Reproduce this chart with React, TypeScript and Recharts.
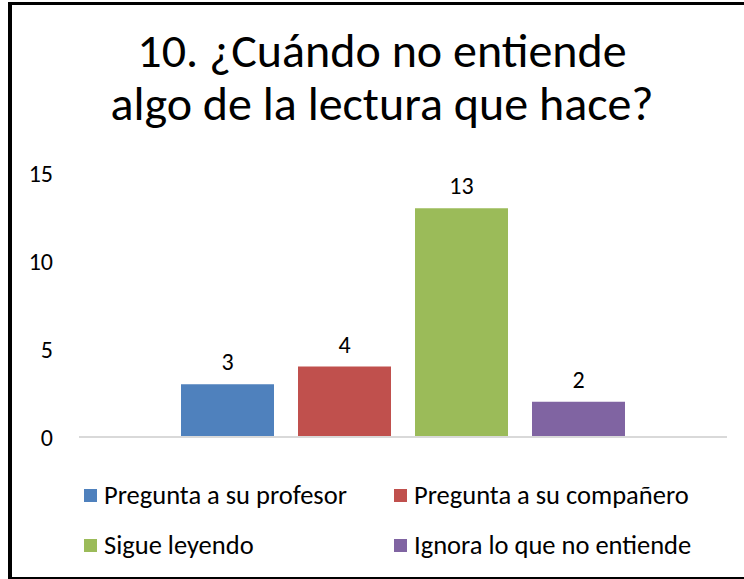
import { Bar, BarChart, LabelList, XAxis, YAxis } from "recharts"

const categories = ["10"]
const seriesNames = [
  "Pregunta a su profesor",
  "Pregunta a su compañero",
  "Sigue leyendo",
  "Ignora lo que no entiende",
]
const seriesValues = [3, 4, 13, 2]
const seriesColors = ["#4F81BD", "#C0504D", "#9BBB59", "#8064A2"]
const yTicks = [0, 5, 10, 15]
const titleLines = ["10. ¿Cuándo no entiende", "algo de la lectura que hace?"]

const font = "Carlito, Calibri, 'Liberation Sans', sans-serif"

const data = categories.map((name) => {
  const row: Record<string, string | number> = { name }
  seriesNames.forEach((s, i) => {
    row[s] = seriesValues[i]
  })
  return row
})

export default function App() {
  return (
    <div style={{ position: "relative", width: 744, height: 579, overflow: "hidden", fontFamily: font }}>
      <style>{`body{margin:0;overflow:hidden;background:#fff}`}</style>
      <div
        style={{
          position: "absolute",
          left: 8,
          top: 2,
          width: 736,
          height: 578,
          boxSizing: "border-box",
          borderLeft: "4px solid #000",
          borderTop: "3px solid #000",
          borderBottom: "3px solid #000",
        }}
      />
      {titleLines.map((t, i) => (
        <div
          key={t}
          style={{
            position: "absolute",
            left: 0,
            top: 24 + i * 53,
            width: 764,
            height: 53,
            textAlign: "center",
            fontSize: 48,
            lineHeight: "53px",
            color: "#000",
          }}
        >
          {t}
        </div>
      ))}
      <div style={{ position: "absolute", left: 0, top: 0 }}>
        <BarChart
          width={744}
          height={579}
          data={data}
          margin={{ top: 173, right: 17, bottom: 140, left: 0 }}
          barSize={93}
          barGap={24}
        >
          <XAxis dataKey="name" height={2} tick={false} tickLine={false} axisLine={{ stroke: "#D9D9D9", strokeWidth: 2 }} />
          <YAxis
            width={79}
            domain={[0, 15]}
            ticks={yTicks}
            axisLine={false}
            tickLine={false}
            tickSize={0}
            tickMargin={26}
            tick={{ fill: "#000", fontSize: 24, fontFamily: font }}
          />
          {seriesNames.map((s, i) => (
            <Bar key={s} dataKey={s} fill={seriesColors[i]} isAnimationActive={false}>
              <LabelList dataKey={s} position="top" offset={14} fill="#000" fontSize={24} fontFamily={font} />
            </Bar>
          ))}
        </BarChart>
      </div>
      <div style={{ position: "absolute", left: 84, top: 480, width: 640, fontSize: 26.5, color: "#000" }}>
        {seriesNames.map((s, i) => (
          <div
            key={s}
            style={{
              position: "absolute",
              left: i % 2 === 0 ? 0 : 310,
              top: i < 2 ? 0 : 50,
              display: "flex",
              alignItems: "center",
              height: 30,
              whiteSpace: "nowrap",
            }}
          >
            <span style={{ display: "inline-block", width: 13, height: 13, background: seriesColors[i], marginRight: 7 }} />
            {s}
          </div>
        ))}
      </div>
    </div>
  )
}
